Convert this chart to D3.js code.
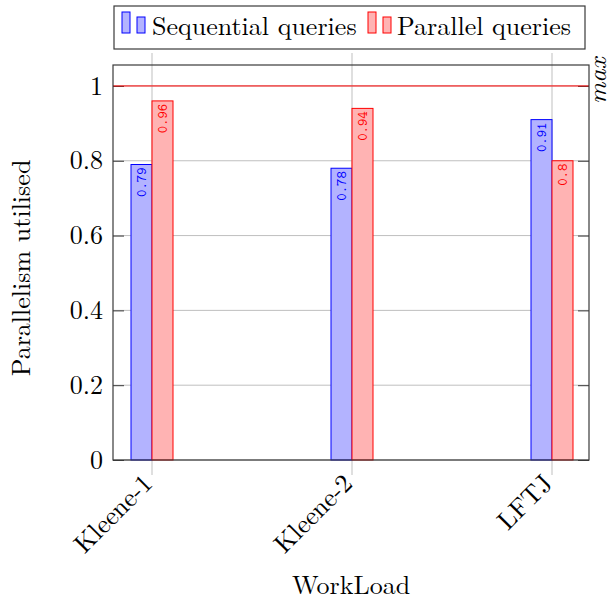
<!DOCTYPE html>
<html>
<head>
<meta charset="utf-8">
<script src="https://cdn.jsdelivr.net/npm/d3@7"></script>
<style>
  html, body { margin: 0; padding: 0; background: #fff; }
  svg { display: block; }
</style>
</head>
<body>
<svg id="chart" width="611" height="601"></svg>
<script>
// Workloads and parallelism utilisation per query mode
const categories = ["Kleene-1", "Kleene-2", "LFTJ"];
const sequential = [0.79, 0.78, 0.91];
const parallel = [0.96, 0.94, 0.80];
const seriesNames = ["Sequential queries", "Parallel queries"];
const yTicks = [0, 0.2, 0.4, 0.6, 0.8, 1];
const maxLevel = 1;

const serif = "'Latin Modern Roman', 'Liberation Serif', serif";
const mono = "'Latin Modern Mono', 'Liberation Mono', monospace";
const fs = 26;

const plot = { left: 113, right: 589, top: 65, bottom: 460 };
const barW = 21;

const svg = d3.select("#chart").attr("font-family", serif);

const x = d3.scaleLinear().domain([-0.195, 2.185]).range([plot.left, plot.right]);
const y = d3.scaleLinear().domain([0, 1.056]).range([plot.bottom, plot.top]);

const gridColor = "#bfbfbf";
const axisColor = "#3a3a3a";

// Grid lines; vertical ones double as outward x ticks
const g = svg.append("g");
g.selectAll("line.hgrid").data(yTicks).join("line")
  .attr("x1", plot.left).attr("x2", plot.right)
  .attr("y1", d => y(d)).attr("y2", d => y(d))
  .attr("stroke", gridColor).attr("stroke-width", 1);
g.selectAll("line.vgrid").data(categories).join("line")
  .attr("x1", (d, i) => x(i)).attr("x2", (d, i) => x(i))
  .attr("y1", plot.top - 12).attr("y2", plot.bottom + 15)
  .attr("stroke", gridColor).attr("stroke-width", 1);

// y ticks (inside, both sides)
const yAxisL = d3.axisRight(y).tickValues(yTicks).tickSize(11).tickFormat("");
const yAxisR = d3.axisLeft(y).tickValues(yTicks).tickSize(11).tickFormat("");
svg.append("g").attr("transform", `translate(${plot.left},0)`).call(yAxisL)
  .call(s => s.select(".domain").remove())
  .call(s => s.selectAll("line").attr("stroke", axisColor));
svg.append("g").attr("transform", `translate(${plot.right},0)`).call(yAxisR)
  .call(s => s.select(".domain").remove())
  .call(s => s.selectAll("line").attr("stroke", axisColor));

// y tick labels
svg.append("g").selectAll("text").data(yTicks).join("text")
  .attr("x", plot.left - 10).attr("y", d => y(d))
  .attr("dy", "0.33em").attr("text-anchor", "end")
  .attr("font-family", serif).attr("font-size", fs).attr("fill", "#000")
  .text(d => d3.format("~g")(d));

// Bars
const seqColor = { fill: "#b3b3ff", stroke: "#0000ff" };
const parColor = { fill: "#ffb3b3", stroke: "#ff0000" };

const bars = svg.append("g");
bars.selectAll("rect.seq").data(sequential).join("rect")
  .attr("x", (d, i) => x(i) - barW).attr("width", barW)
  .attr("y", d => y(d)).attr("height", d => y(0) - y(d))
  .attr("fill", seqColor.fill).attr("stroke", seqColor.stroke).attr("stroke-width", 1);
bars.selectAll("rect.par").data(parallel).join("rect")
  .attr("x", (d, i) => x(i)).attr("width", barW)
  .attr("y", d => y(d)).attr("height", d => y(0) - y(d))
  .attr("fill", parColor.fill).attr("stroke", parColor.stroke).attr("stroke-width", 1);

// Value labels, reading upward, ending just inside each bar top
function valueLabels(data, offset, color) {
  bars.selectAll(null).data(data).join("text")
    .attr("transform", (d, i) => `translate(${x(i) + offset},${y(d) + 3}) rotate(-90)`)
    .attr("dy", "0.3em").attr("text-anchor", "end")
    .attr("font-family", mono).attr("font-size", 14).attr("fill", color)
    .text(d => d3.format("~g")(d));
}
valueLabels(sequential, -barW / 2, "#0000ff");
valueLabels(parallel, barW / 2, "#ff0000");

// Max reference line
svg.append("line")
  .attr("x1", plot.left).attr("x2", plot.right)
  .attr("y1", y(maxLevel)).attr("y2", y(maxLevel))
  .attr("stroke", "#ff0000").attr("stroke-width", 1);
svg.append("text")
  .attr("transform", `translate(606,${y(maxLevel) + 18}) rotate(-90)`)
  .attr("font-family", serif).attr("font-size", fs).attr("font-style", "italic")
  .attr("text-anchor", "start").text("max");

// Plot border
svg.append("rect")
  .attr("x", plot.left).attr("y", plot.top)
  .attr("width", plot.right - plot.left).attr("height", plot.bottom - plot.top)
  .attr("fill", "none").attr("stroke", axisColor).attr("stroke-width", 1.2);

// x tick labels, rotated 45°
svg.append("g").selectAll("text").data(categories).join("text")
  .attr("transform", (d, i) => `translate(${x(i) + 2},${plot.bottom + 25}) rotate(-45)`)
  .attr("text-anchor", "end")
  .attr("font-family", serif).attr("font-size", fs).attr("fill", "#000")
  .text(d => d);

// Axis titles
svg.append("text")
  .attr("x", (plot.left + plot.right) / 2).attr("y", 594)
  .attr("text-anchor", "middle")
  .attr("font-family", serif).attr("font-size", fs)
  .text("WorkLoad");
svg.append("text")
  .attr("transform", `translate(30,268) rotate(-90)`)
  .attr("text-anchor", "middle")
  .attr("font-family", serif).attr("font-size", fs)
  .text("Parallelism utilised");

// Legend
const legend = svg.append("g");
legend.append("rect")
  .attr("x", 114).attr("y", 6).attr("width", 471).attr("height", 43)
  .attr("fill", "#fff").attr("stroke", axisColor).attr("stroke-width", 1.2);
const legendItems = [
  { name: seriesNames[0], c: seqColor, x0: 122, tx: 152 },
  { name: seriesNames[1], c: parColor, x0: 368, tx: 397 }
];
legendItems.forEach(it => {
  legend.append("rect").attr("x", it.x0).attr("y", 12).attr("width", 8).attr("height", 21)
    .attr("fill", it.c.fill).attr("stroke", it.c.stroke);
  legend.append("rect").attr("x", it.x0 + 15).attr("y", 17).attr("width", 8).attr("height", 16)
    .attr("fill", it.c.fill).attr("stroke", it.c.stroke);
  legend.append("text").attr("x", it.tx).attr("y", 35)
    .attr("font-family", serif).attr("font-size", fs).attr("fill", "#000").text(it.name);
});
</script>
</body>
</html>
